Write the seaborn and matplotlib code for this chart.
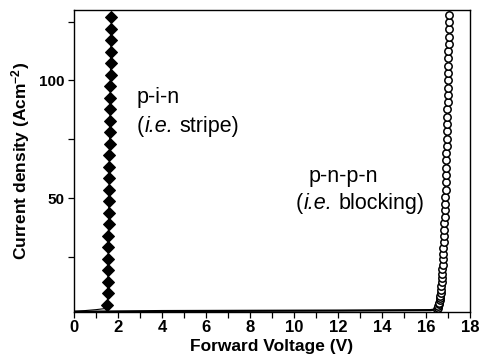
import matplotlib
matplotlib.use("Agg")
import matplotlib.pyplot as plt
from matplotlib.transforms import offset_copy
import seaborn as sns
import pandas as pd
from matplotlib.ticker import MultipleLocator

# p-i-n (stripe) device
pin_voltage = [0.0, 0.5, 1.0, 1.45, 1.52, 1.53, 1.54, 1.54, 1.55, 1.56, 1.56, 1.57, 1.58,
               1.58, 1.59, 1.60, 1.60, 1.61, 1.62, 1.62, 1.63, 1.64, 1.64, 1.65, 1.66,
               1.66, 1.67, 1.68, 1.69, 1.70]
pin_current = [1.8, 2.1, 2.5, 3.0, 4.5, 9.4, 14.3, 19.2, 24.1, 29.0, 33.9, 38.8, 43.7,
               48.6, 53.5, 58.4, 63.3, 68.2, 73.1, 78.0, 82.9, 87.8, 92.7, 97.6, 102.5,
               107.4, 112.3, 117.2, 122.1, 127.0]

# p-n-p-n (blocking) device
pnpn_voltage = [0.0, 4.0, 8.0, 12.0, 16.2, 16.45,
                16.50, 16.53, 16.56, 16.58, 16.60, 16.62, 16.64, 16.65, 16.67, 16.68,
                16.70, 16.71, 16.72, 16.74, 16.75, 16.76, 16.77, 16.78, 16.79, 16.80,
                16.82, 16.83, 16.84, 16.85, 16.86, 16.87, 16.88, 16.89, 16.90, 16.91,
                16.91, 16.92, 16.93, 16.94, 16.94, 16.95, 16.96, 16.96, 16.97, 16.98,
                16.98, 16.99, 17.00, 17.00, 17.01, 17.02, 17.02, 17.03, 17.04, 17.05,
                17.05, 17.05]
pnpn_current = [1.6, 1.9, 2.0, 2.1, 2.3, 2.6,
                2.9, 3.4, 4.0, 4.7, 5.5, 6.4, 7.4, 8.5, 9.7, 11.0,
                12.5, 14.1, 15.8, 17.6, 19.6, 21.7, 23.9, 26.2, 28.7, 31.2,
                33.8, 36.5, 39.2, 42.0, 44.8, 47.6, 50.5, 53.6, 56.7, 59.8,
                62.9, 66.0, 69.1, 72.2, 75.3, 78.4, 81.5, 84.6, 87.7, 90.8,
                93.9, 97.0, 100.1, 103.2, 106.3, 109.4, 112.5, 115.6, 118.7, 121.8,
                124.9, 127.8]

x_ticks = [0, 2, 4, 6, 8, 10, 12, 14, 16, 18]
y_ticks = [50, 100]

pin_df = pd.DataFrame({"V": pin_voltage, "J": pin_current})
pnpn_df = pd.DataFrame({"V": pnpn_voltage, "J": pnpn_current})

sns.set_style("ticks")
plt.rcParams["font.family"] = ["Liberation Sans", "DejaVu Sans"]
plt.rcParams["mathtext.fontset"] = "custom"
plt.rcParams["mathtext.rm"] = "Liberation Sans"
plt.rcParams["mathtext.it"] = "Liberation Sans:italic"
plt.rcParams["mathtext.bf"] = "Liberation Sans:bold"
for key in ["text.color", "axes.labelcolor", "xtick.color", "ytick.color",
            "axes.edgecolor"]:
    plt.rcParams[key] = "black"

fig = plt.figure(figsize=(4.82, 3.63), dpi=100)
ax = fig.add_axes([0.1535, 0.1405, 0.8215, 0.832])

sns.lineplot(data=pin_df, x="V", y="J", ax=ax, sort=False, estimator=None,
             color="black", linewidth=0.8, marker="D", markersize=6.2,
             markerfacecolor="black", markeredgecolor="black",
             markevery=list(range(4, len(pin_voltage))))
sns.lineplot(data=pnpn_df, x="V", y="J", ax=ax, sort=False, estimator=None,
             color="black", linewidth=1.6, marker="o", markersize=5.3,
             markerfacecolor="white", markeredgecolor="black", markeredgewidth=1.1,
             markevery=list(range(6, len(pnpn_voltage))))

ax.set_xlim(0, 18)
ax.set_ylim(1.5, 130)
ax.set_xticks(x_ticks)
ax.set_yticks(y_ticks)
ax.xaxis.set_minor_locator(MultipleLocator(1))
ax.yaxis.set_minor_locator(MultipleLocator(25))
ax.tick_params(which="both", direction="out", length=4, width=0.9, color="black",
               labelcolor="black")
ax.tick_params(axis="x", labelsize=12, pad=2)
ax.tick_params(axis="y", labelsize=11, pad=3)
for lab in ax.get_xticklabels() + ax.get_yticklabels():
    lab.set_fontweight("bold")
for s in ax.spines.values():
    s.set_visible(True)
    s.set_color("black")
    s.set_linewidth(1.0)

ax.set_xlabel("Forward Voltage (V)", fontsize=12.5, fontweight="bold", labelpad=3,
              color="black")
ax.set_ylabel(r"Current density (Acm$^{\mathbf{-2}}$)", fontsize=12.5,
              fontweight="bold", labelpad=5, color="black")

renderer = fig.canvas.get_renderer()
TXT = 15.5


def text_width(s, style="normal"):
    t = fig.text(0, 0, s, fontsize=TXT, style=style)
    w = t.get_window_extent(renderer=renderer).width
    t.remove()
    return w


space_w = text_width("x x") - text_width("xx")


def mixed(x, y, parts):
    dx = 0.0
    for s, style in parts:
        if s.startswith(" "):
            dx += space_w
            s = s.lstrip(" ")
        t = ax.text(x, y, s, fontsize=TXT, style=style, ha="left", va="baseline",
                    color="black",
                    transform=offset_copy(ax.transData, fig=fig, x=dx, y=0, units="dots"))
        dx += t.get_window_extent(renderer=renderer).width + 0.5


ax.text(2.86, 90.4, "p-i-n", fontsize=TXT, ha="left", va="baseline", color="black")
mixed(2.86, 78.1, [("(", "normal"), ("i.e.", "italic"), (" stripe)", "normal")])
ax.text(10.68, 56.8, "p-n-p-n", fontsize=TXT, ha="left", va="baseline", color="black")
mixed(10.09, 45.3, [("(", "normal"), ("i.e.", "italic"), (" blocking)", "normal")])

fig.savefig("out.png", dpi=100)
